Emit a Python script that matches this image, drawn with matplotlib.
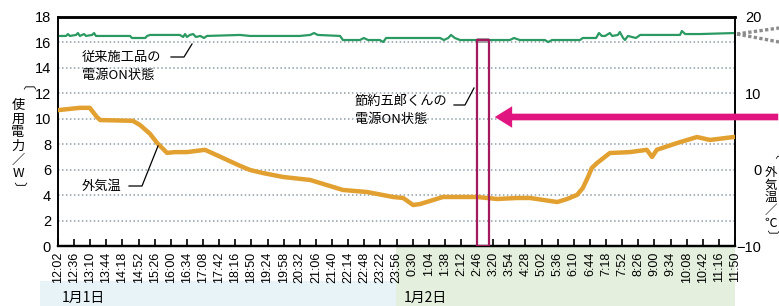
import matplotlib
matplotlib.use('Agg')
import matplotlib.pyplot as plt
import matplotlib.patches as mpatches
from matplotlib.lines import Line2D
import numpy as np

W, H = 779, 306
JP = ['Noto Sans CJK JP', 'DejaVu Sans']
NUM = ['Liberation Sans', 'DejaVu Sans']

# x tick labels (every 34 min)
tick_labels = ['12:02', '12:36', '13:10', '13:44', '14:18', '14:52', '15:26', '16:00',
               '16:34', '17:08', '17:42', '18:16', '18:50', '19:24', '19:58', '20:32',
               '21:06', '21:40', '22:14', '22:48', '23:22', '23:56', '0:30', '1:04',
               '1:38', '2:12', '2:46', '3:20', '3:54', '4:28', '5:02', '5:36', '6:10',
               '6:44', '7:18', '7:52', '8:26', '9:00', '9:34', '10:08', '10:42',
               '11:16', '11:50']

# power of conventional product (W)
pw_time = ['12:02', '12:19', '12:23', '12:27', '12:40', '12:44', '12:48', '12:57', '13:01',
           '13:14', '13:18', '13:22', '14:34', '14:38', '15:06', '15:10', '15:16', '16:19',
           '16:26', '16:30', '16:34', '16:40', '16:47', '16:53', '17:02', '17:10', '17:16',
           '18:26', '18:47', '20:32', '20:54', '21:02', '21:10', '21:57', '22:03', '22:39',
           '22:47', '22:56', '23:21', '23:28', '23:34', '1:28', '1:36', '1:45', '1:51',
           '1:59', '2:10', '2:46', '3:11', '3:34', '3:55', '4:04', '4:16', '5:09', '5:16',
           '5:24', '6:23', '6:29', '6:57', '7:03', '7:09', '7:16', '7:26', '7:31', '7:43',
           '7:47', '7:54', '7:58', '8:04', '8:21', '8:30', '9:54', '9:58', '10:05', '10:36',
           '11:50']
pw_watt = [16.51, 16.51, 16.66, 16.51, 16.59, 16.74, 16.51, 16.66, 16.51,
           16.59, 16.74, 16.51, 16.51, 16.35, 16.35, 16.51, 16.59, 16.59,
           16.43, 16.66, 16.43, 16.59, 16.66, 16.43, 16.51, 16.35, 16.51,
           16.59, 16.51, 16.51, 16.59, 16.74, 16.59, 16.51, 16.19, 16.19,
           16.35, 16.19, 16.19, 16.03, 16.35, 16.35, 16.19, 16.35, 16.59,
           16.35, 16.19, 16.19, 16.19, 16.19, 16.19, 16.35, 16.19, 16.19, 16.03,
           16.19, 16.19, 16.35, 16.35, 16.74, 16.51, 16.51, 16.74, 16.51, 16.59,
           16.82, 16.35, 16.19, 16.51, 16.35, 16.59, 16.59, 16.90, 16.66, 16.66,
           16.74]

# outside air temperature (deg C)
tmp_time = ['12:02', '12:48', '13:09', '13:24', '13:31', '14:40', '14:55', '15:16', '15:31',
            '15:52', '16:09', '16:34', '17:12', '17:44', '18:26', '18:47', '19:14', '19:57',
            '20:54', '22:03', '22:54', '23:49', '0:10', '0:31', '0:46', '1:34', '2:46',
            '3:28', '4:10', '4:38', '5:35', '5:56', '6:17', '6:29', '6:40', '6:48', '6:59',
            '7:26', '8:08', '8:44', '8:55', '9:05', '9:48', '10:30', '10:57', '11:50']
tmp_deg = [7.8, 8.1, 8.1, 6.9, 6.5, 6.4, 5.85, 4.7, 3.5,
           2.2, 2.3, 2.3, 2.6, 1.7, 0.5, -0.04, -0.44, -0.96,
           -1.35, -2.66, -2.93, -3.58, -3.71, -4.63, -4.5, -3.58, -3.58,
           -3.84, -3.71, -3.71, -4.24, -3.84, -3.3, -2.4, -0.96, 0.22, 0.87,
           2.18, 2.3, 2.6, 1.66, 2.6, 3.49, 4.28, 3.89, 4.3]

# product ON period (節約五郎くん)
on_start, on_end, on_top = '2:46', '3:11', 16.2


def to_min(s):
    h, m = map(int, s.split(':'))
    t = h * 60 + m - (12 * 60 + 2)
    if t < 0:
        t += 24 * 60
    return t


def fx(x):
    return x / W


def fy(y):
    return 1 - y / H


fig = plt.figure(figsize=(W / 100, H / 100), dpi=100)

# date band backgrounds under the axis
fig.patches.append(mpatches.Rectangle((fx(40), 0), fx(398) - fx(40), fy(281),
                                      transform=fig.transFigure, facecolor='#e8f3f7',
                                      edgecolor='none', zorder=-2))
fig.patches.append(mpatches.Rectangle((fx(396), 0), fx(735) - fx(396), fy(247),
                                      transform=fig.transFigure, facecolor='#e4efdd',
                                      edgecolor='none', zorder=-2))

ax = fig.add_axes([fx(58), fy(246), fx(735) - fx(58), fy(17) - fy(246)])
ax.set_facecolor('white')
ax2 = ax.twinx()

xt = [to_min(s) for s in tick_labels]
ax.set_xlim(xt[0], xt[-1])
ax.set_ylim(0, 18)
ax2.set_ylim(-10, 20)

for v in range(2, 17, 2):
    ax.axhline(v, color='#8d9ea8', lw=1.1, ls=(0, (1, 1.6)), zorder=0.5)

ax.plot([to_min(s) for s in pw_time], pw_watt, color='#2b9a62', lw=1.6, zorder=3)
ax2.plot([to_min(s) for s in tmp_time], tmp_deg, color='#e2a030', lw=3.2,
         solid_joinstyle='round', solid_capstyle='round', zorder=3)

x0, x1 = to_min(on_start), to_min(on_end)
ax2.add_patch(mpatches.Rectangle((x0, 15.95), x1 - x0, on_top - 15.95 + 0.15,
                                 transform=ax.transData, facecolor='#a5a5a5',
                                 edgecolor='none', zorder=4))
ax2.add_patch(mpatches.Rectangle((x0, 0), x1 - x0, on_top, transform=ax.transData,
                                 facecolor='none', edgecolor='#a3195e', lw=1.6, zorder=5))

ax.set_xticks(xt)
ax.set_xticklabels(tick_labels, rotation=90, family=NUM, fontsize=9)
ax.tick_params(axis='x', direction='in', length=5, width=1.2, pad=4)
ax.set_yticks(range(0, 19, 2))
ax.tick_params(axis='y', length=0, pad=5, labelsize=10.5)
for lab in ax.get_yticklabels():
    lab.set_family(NUM)
ax2.set_yticks([-10, 0, 10, 20])
ax2.tick_params(axis='y', length=0, pad=19, labelsize=10.5)
for lab in ax2.get_yticklabels():
    lab.set_family(NUM)
    lab.set_horizontalalignment('right')

for a in (ax, ax2):
    for s in a.spines.values():
        s.set_color('black')
        s.set_linewidth(1.2)
    a.spines['top'].set_linewidth(1.8)
    a.spines['bottom'].set_linewidth(1.6)

# vertical axis titles
left_chars = ['〔', '使', '用', '電', '力', '／', 'W', '〕']
for i, c in enumerate(left_chars):
    rot = -90 if c in '〔〕' else 0
    fig.text(fx(18), fy(92 + i * 13.6), c, family=JP, fontsize=9.5, rotation=rot,
             ha='center', va='center')
right_chars = ['〔', '外', '気', '温', '／', '℃', '〕']
for i, c in enumerate(right_chars):
    rot = -90 if c in '〔〕' else 0
    fig.text(fx(771), fy(160 + i * 12.6), c, family=JP, fontsize=9, rotation=rot,
             ha='center', va='center')

# annotations
fig.text(fx(82), fy(57), '従来施工品の', family=JP, fontsize=9.5, va='center')
fig.text(fx(82), fy(76), '電源ON状態', family=JP, fontsize=9.5, va='center')
fig.text(fx(355), fy(101), '節約五郎くんの', family=JP, fontsize=9.5, va='center')
fig.text(fx(355), fy(120), '電源ON状態', family=JP, fontsize=9.5, va='center')
fig.text(fx(82), fy(186), '外気温', family=JP, fontsize=9.5, va='center')
fig.text(fx(62), fy(298), '1月1日', family=JP, fontsize=10, va='center')
fig.text(fx(404), fy(298), '1月2日', family=JP, fontsize=10, va='center')

for pts in ([(171, 57), (184, 57), (192, 44)],
            [(454, 105), (465, 105), (474, 88)],
            [(129, 186), (142, 186), (158, 146)]):
    fig.add_artist(Line2D([fx(p[0]) for p in pts], [fy(p[1]) for p in pts],
                          transform=fig.transFigure, color='black', lw=0.9))

# grey dotted callout lines at top right
for yy in (28, 42):
    fig.add_artist(Line2D([fx(737), fx(779)], [fy(34), fy(yy)], transform=fig.transFigure,
                          color='#8c8c8c', lw=2.4, ls=(0, (1.0, 0.7))))

# magenta arrow pointing at the ON period
arrow = mpatches.FancyArrowPatch((fx(781), fy(117)), (fx(492), fy(117)),
                                 transform=fig.transFigure,
                                 arrowstyle='simple,tail_width=0.48,head_width=1.55,head_length=1.25',
                                 mutation_scale=10, color='#e0157f', lw=0, zorder=10)
fig.add_artist(arrow)

fig.savefig('out.png', dpi=100)
